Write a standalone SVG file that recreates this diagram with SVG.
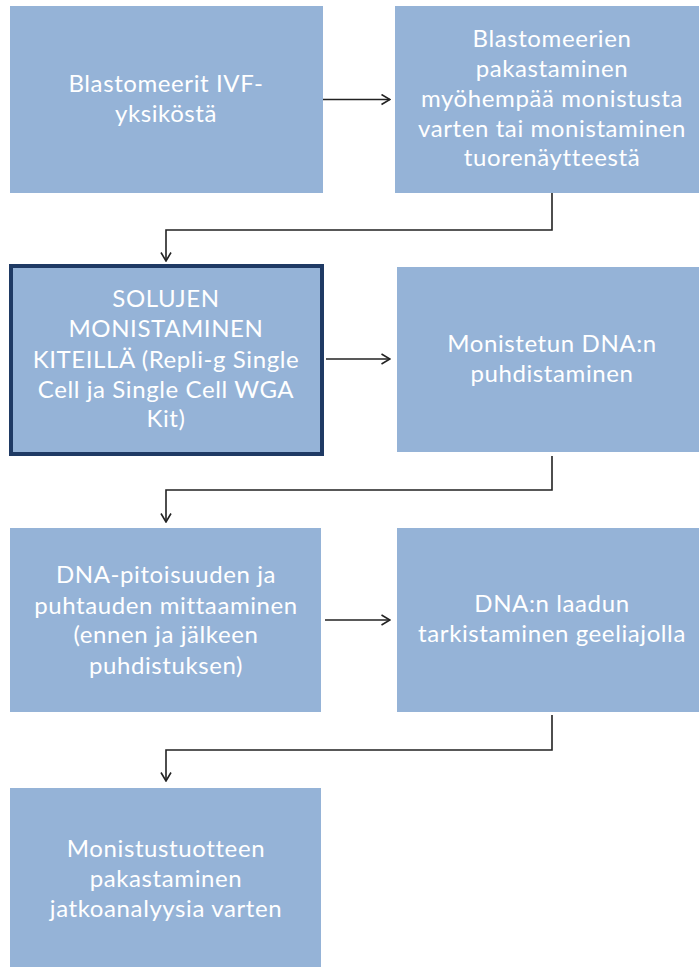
<svg xmlns="http://www.w3.org/2000/svg" width="699" height="967" viewBox="0 0 699 967">
<style>
.box{fill:#95B3D7}
.hl{fill:#95B3D7;stroke:#1F3A64;stroke-width:4}
.t{font-family:Lato,"Liberation Sans",sans-serif;font-size:24px;letter-spacing:0.6px;fill:#FFFFFF;text-anchor:middle}
.c{fill:none;stroke:#222222;stroke-width:1.6}
</style>
<defs>
<marker id="ah" viewBox="0 0 10 12" refX="9.5" refY="6" markerWidth="10" markerHeight="12" markerUnits="userSpaceOnUse" orient="auto">
<path d="M1,1 L9.5,6 L1,11" fill="none" stroke="#222222" stroke-width="1.6"/>
</marker>
</defs>
<rect width="699" height="967" fill="#FFFFFF"/>
<g id="connectors">
<path class="c" d="M323,99.5 H390" marker-end="url(#ah)"/>
<path class="c" d="M552,193 V230 H166 V261" marker-end="url(#ah)"/>
<path class="c" d="M326,359 H390" marker-end="url(#ah)"/>
<path class="c" d="M552,456 V490 H166 V522" marker-end="url(#ah)"/>
<path class="c" d="M325,620 H390" marker-end="url(#ah)"/>
<path class="c" d="M552,715 V750 H166 V781" marker-end="url(#ah)"/>
</g>
<g id="n1">
<rect class="box" x="10" y="6" width="313" height="187"/>
<text class="t"><tspan x="166" y="92">Blastomeerit IVF-</tspan><tspan x="166" y="122">yksiköstä</tspan></text>
</g>
<g id="n2">
<rect class="box" x="395" y="6" width="314" height="187"/>
<text class="t"><tspan x="552" y="47">Blastomeerien</tspan><tspan x="552" y="77">pakastaminen</tspan><tspan x="552" y="107">myöhempää monistusta</tspan><tspan x="552" y="137">varten tai monistaminen</tspan><tspan x="552" y="166">tuorenäytteestä</tspan></text>
</g>
<g id="n3">
<rect class="hl" x="11" y="266" width="311" height="188"/>
<text class="t"><tspan x="166" y="307">SOLUJEN</tspan><tspan x="166" y="337">MONISTAMINEN</tspan><tspan x="166" y="368">KITEILLÄ (Repli-g Single</tspan><tspan x="166" y="398">Cell ja Single Cell WGA</tspan><tspan x="166" y="427">Kit)</tspan></text>
</g>
<g id="n4">
<rect class="box" x="397" y="267" width="312" height="185"/>
<text class="t"><tspan x="552" y="352">Monistetun DNA:n</tspan><tspan x="552" y="382">puhdistaminen</tspan></text>
</g>
<g id="n5">
<rect class="box" x="10" y="528" width="311" height="184"/>
<text class="t"><tspan x="166" y="583">DNA-pitoisuuden ja</tspan><tspan x="166" y="614">puhtauden mittaaminen</tspan><tspan x="166" y="643">(ennen ja jälkeen</tspan><tspan x="166" y="674">puhdistuksen)</tspan></text>
</g>
<g id="n6">
<rect class="box" x="397" y="528" width="312" height="184"/>
<text class="t"><tspan x="552" y="612">DNA:n laadun</tspan><tspan x="552" y="642">tarkistaminen geeliajolla</tspan></text>
</g>
<g id="n7">
<rect class="box" x="10" y="788" width="311" height="184"/>
<text class="t"><tspan x="166" y="857">Monistustuotteen</tspan><tspan x="166" y="887">pakastaminen</tspan><tspan x="166" y="917">jatkoanalyysia varten</tspan></text>
</g>
</svg>
